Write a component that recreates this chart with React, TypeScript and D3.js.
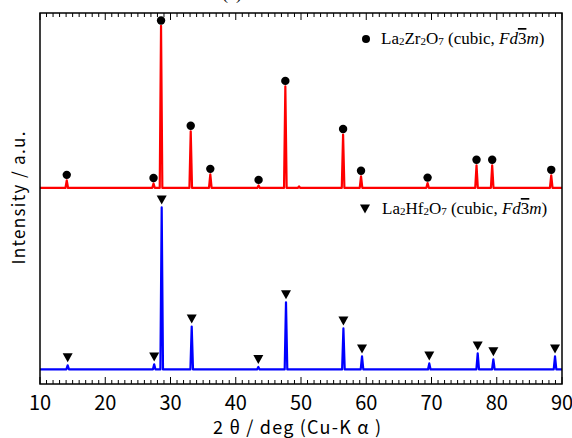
import React from "react";
import * as d3 from "d3";

// ---- data ----
// 2θ positions (deg) and relative intensities (a.u., La2Hf2O7 main peak = 100)
const zrPeakPos = [14.1, 27.4, 28.55, 33.1, 36.1, 43.5, 47.6, 49.7, 56.45, 59.2, 69.4, 76.9, 79.3, 88.35];
const zrPeakInt = [4.7, 2.8, 100, 35, 8.4, 1.6, 62.7, 1.0, 33, 7.2, 3.0, 14, 14, 7.8];
const zrMarked = [true, true, true, true, true, true, true, false, true, true, true, true, true, true];

const hfPeakPos = [14.24, 27.5, 28.65, 33.25, 43.46, 47.7, 56.5, 59.35, 69.66, 77.08, 79.48, 88.93];
const hfPeakInt = [2.5, 3.1, 100, 26.5, 1.5, 41.4, 25.3, 8.0, 3.7, 9.9, 6.2, 8.0];

const zrOffset = 112; // vertical offset of the La2Zr2O7 pattern (a.u.)

const xTickLabels = [10, 20, 30, 40, 50, 60, 70, 80, 90];
const xDomain = [10, 90];
const yDomain = [-9, 220];

// ---- layout ----
const W = 572;
const H = 438;
const M = { left: 40, right: 562, top: 13, bottom: 384 };

const x = d3.scaleLinear().domain(xDomain).range([M.left, M.right]);
const y = d3.scaleLinear().domain(yDomain).range([M.bottom, M.top]);

function patternPoints(pos: number[], ints: number[], offset: number): [number, number][] {
  const hw = 0.2;
  const pts: [number, number][] = [[xDomain[0], offset]];
  pos.forEach((p, i) => {
    pts.push([p - hw, offset]);
    pts.push([p, offset + ints[i]]);
    pts.push([p + hw, offset]);
  });
  pts.push([xDomain[1], offset]);
  return pts;
}

const line = d3
  .line<[number, number]>()
  .x((d) => x(d[0]))
  .y((d) => y(d[1]));

const minorTicks = d3.range(xDomain[0], xDomain[1] + 1, 1);

function Legend({ metal, tx, ty }: { metal: string; tx: number; ty: number }) {
  const serif = "'Liberation Serif', 'Times New Roman', serif";
  return (
    <text x={tx} y={ty} fontFamily={serif} fontSize={17} fill="#000">
      La<tspan fontSize={11} dy={1}>2</tspan>
      <tspan dy={-1}>{metal}</tspan>
      <tspan fontSize={11} dy={1}>2</tspan>
      <tspan dy={-1}>O</tspan>
      <tspan fontSize={11} dy={1}>7</tspan>
      <tspan dy={-1}> (cubic, </tspan>
      <tspan fontStyle="italic">Fd</tspan>
      <tspan style={{ textDecoration: "overline" }}>3</tspan>
      <tspan fontStyle="italic">m</tspan>)
    </text>
  );
}

export default function App() {
  const zrPts = patternPoints(zrPeakPos, zrPeakInt, zrOffset);
  const hfPts = patternPoints(hfPeakPos, hfPeakInt, 0);
  const tri = (cx: number, cy: number) =>
    `M${cx - 5},${cy - 4.5}L${cx + 5},${cy - 4.5}L${cx},${cy + 4.5}Z`;
  const serif = "'Liberation Serif', 'Times New Roman', serif";
  const sans = "'Noto Sans CJK JP', 'Noto Sans', sans-serif";
  return (
    <svg
      width={W}
      height={H}
      style={{ position: "absolute", left: 0, top: 0, background: "#fff" }}
    >
      <rect x={0} y={0} width={W} height={H} fill="#fff" />
      {/* clipped title at very top */}
      <text x={232} y={-1} fontFamily={serif} fontSize={18} textAnchor="middle" fill="#000">
        (a)
      </text>

      {/* patterns */}
      <path d={line(zrPts) || ""} fill="none" stroke="#ff0000" strokeWidth={2.2} strokeLinejoin="round" />
      <path d={line(hfPts) || ""} fill="none" stroke="#0000ff" strokeWidth={2.2} strokeLinejoin="round" />

      {/* markers */}
      {zrPeakPos.map((p, i) =>
        zrMarked[i] ? (
          <circle key={"zc" + i} cx={x(p)} cy={y(zrOffset + zrPeakInt[i]) - 5.5} r={4.2} fill="#000" />
        ) : null
      )}
      {hfPeakPos.map((p, i) => (
        <path key={"ht" + i} d={tri(x(p), y(hfPeakInt[i]) - 7.5)} fill="#000" />
      ))}

      {/* frame */}
      <rect
        x={M.left}
        y={M.top}
        width={M.right - M.left}
        height={M.bottom - M.top}
        fill="none"
        stroke="#000"
        strokeWidth={1.5}
      />

      {/* ticks */}
      {minorTicks.map((t) => {
        const major = t % 10 === 0;
        const len = major ? 7 : 4;
        const xx = x(t);
        return (
          <g key={"t" + t}>
            <line x1={xx} x2={xx} y1={M.bottom} y2={M.bottom - len} stroke="#000" strokeWidth={1} />
            <line x1={xx} x2={xx} y1={M.top} y2={M.top + len} stroke="#000" strokeWidth={1} />
          </g>
        );
      })}
      {xTickLabels.map((t) => (
        <text
          key={"l" + t}
          x={x(t)}
          y={410}
          textAnchor="middle"
          fontFamily={sans}
          fontSize={20}
          fill="#000"
        >
          {t}
        </text>
      ))}

      {/* axis titles */}
      <text
        x={297}
        y={434}
        textAnchor="middle"
        fontFamily={sans}
        fontSize={18}
        fill="#000"
        textLength={168}
        lengthAdjust="spacing"
      >
        2 θ / deg (Cu-K α )
      </text>
      <text
        transform={`translate(25,198) rotate(-90)`}
        textAnchor="middle"
        fontFamily={sans}
        fontSize={17}
        fill="#000"
        textLength={133}
        lengthAdjust="spacing"
      >
        Intensity / a.u.
      </text>

      {/* legends */}
      <circle cx={366} cy={39} r={4} fill="#000" />
      <Legend metal="Zr" tx={381} ty={44} />
      <path d={tri(365, 209)} fill="#000" />
      <Legend metal="Hf" tx={382} ty={214} />
    </svg>
  );
}
